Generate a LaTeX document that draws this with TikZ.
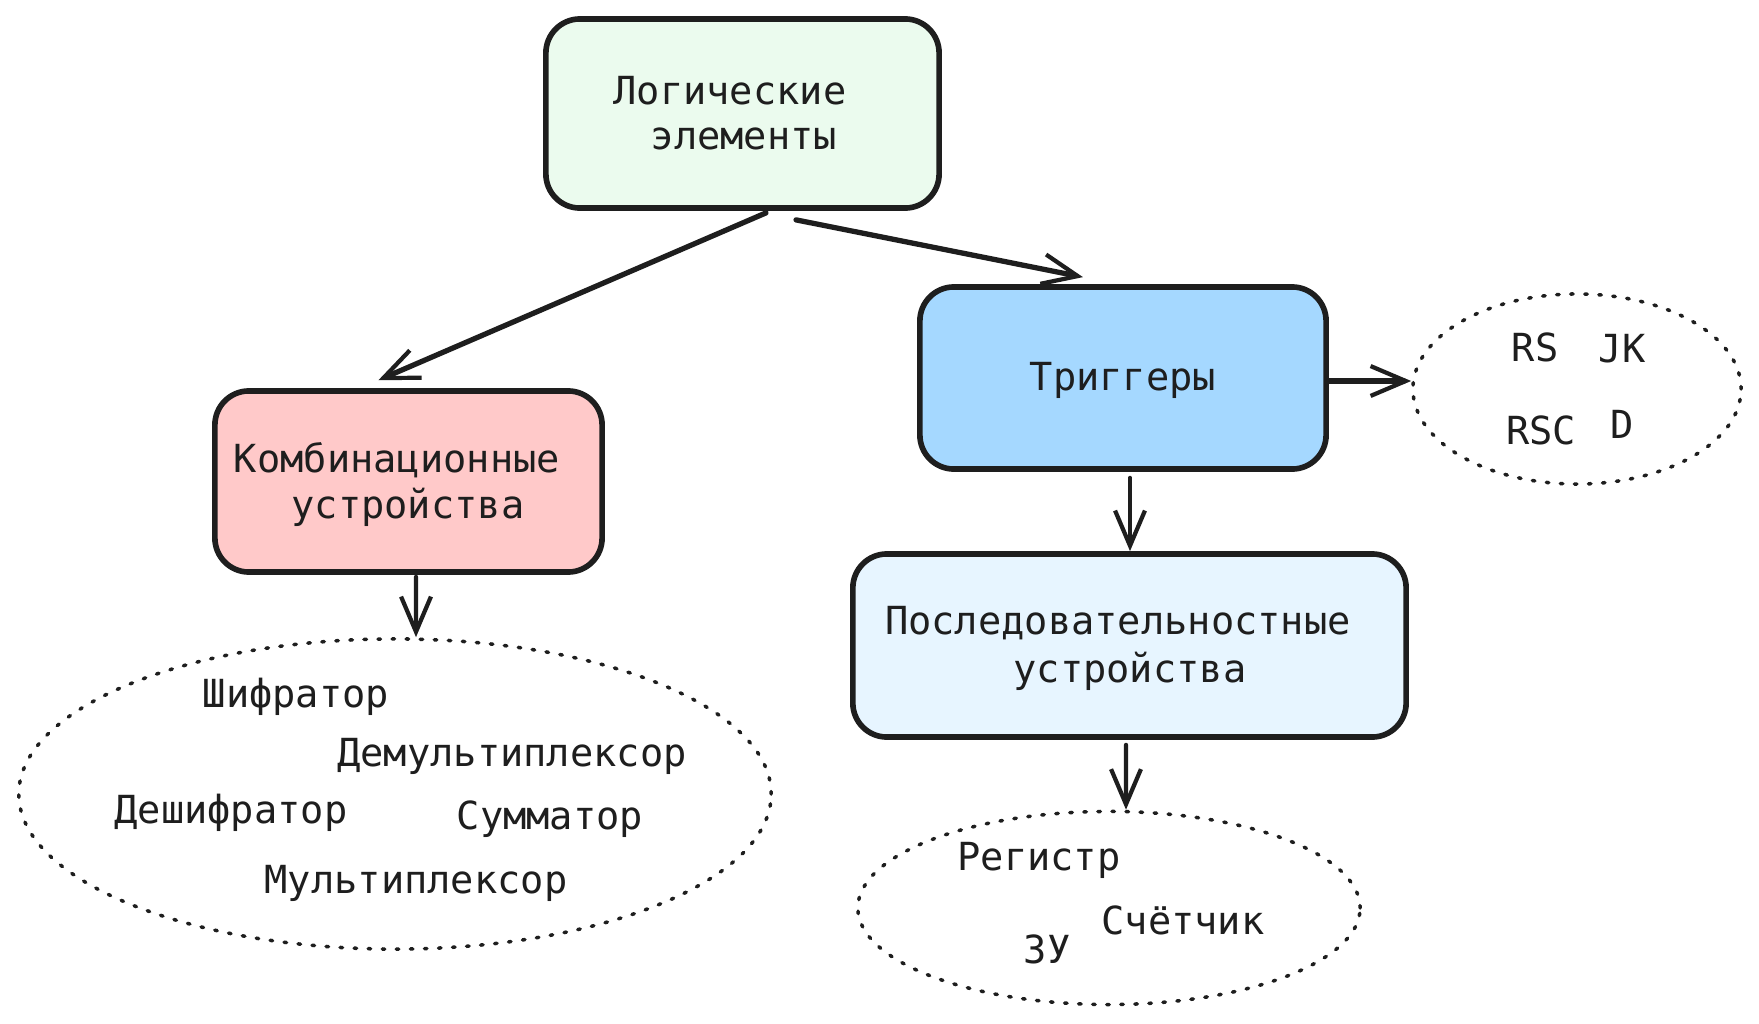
\documentclass[tikz,border=0pt]{standalone}
\usepackage{fontspec}
\newfontfamily\handfont{DejaVu Sans Mono}
\usetikzlibrary{arrows.meta,shapes.geometric}
\definecolor{ink}{HTML}{1E1E1E}
\definecolor{fgreen}{HTML}{EBFBEE}
\definecolor{fred}{HTML}{FFC9C9}
\definecolor{fblue}{HTML}{A5D8FF}
\definecolor{flight}{HTML}{E7F5FF}
\tikzset{
  boxnode/.style={draw=ink, line width=1.6pt, rounded corners=0.34cm, inner sep=0pt},
  cloud/.style={draw=ink, ellipse, inner sep=0pt, line width=1pt, dash pattern=on 0.7pt off 3.3pt, line cap=round},
  txt/.style={inner sep=0pt, text=ink, font=\handfont\fontsize{11}{14}\selectfont},
  arr/.style={draw=ink, line width=1.2pt, line cap=round, -{Straight Barb[length=10pt, width=8.5pt, line width=1.2pt]}},
}
\begin{document}
\begin{tikzpicture}[x=0.01cm, y=-0.01cm]
\useasboundingbox[fill=white] (0,0) rectangle (1759,1024);

% boxes
\node[boxnode, fill=fgreen, minimum width=3.93cm, minimum height=1.89cm] (top) at (742.5,113.5) {};
\node[boxnode, fill=fred, minimum width=3.87cm, minimum height=1.81cm] (comb) at (408.5,481.5) {};
\node[boxnode, fill=fblue, minimum width=4.06cm, minimum height=1.82cm] (trig) at (1123,378) {};
\node[boxnode, fill=flight, minimum width=5.53cm, minimum height=1.83cm] (seq) at (1129.5,645.5) {};

% box texts
\node[txt] (topa) at (730,91) {Логические};
\node[txt] (topb) at (744,139) {элементы};
\node[txt] (comba) at (397,460) {Комбинационные};
\node[txt] (combb) at (408,507) {устройства};
\node[txt] (triga) at (1123,380) {Триггеры};
\node[txt] (seqa) at (1118,623) {Последовательностные};
\node[txt] (seqb) at (1130,671) {устройства};

% ellipses
\node[cloud, minimum width=7.52cm, minimum height=3.10cm] (e1) at (395,794) {};
\node[cloud, minimum width=3.28cm, minimum height=1.90cm] (e2) at (1577,389) {};
\node[cloud, minimum width=5.02cm, minimum height=1.93cm] (e3) at (1109,908) {};

% ellipse texts
\node[txt] (t1) at (296,697) {Шифратор};
\node[txt] (t2) at (512,756) {Демультиплексор};
\node[txt] (t3) at (231,813) {Дешифратор};
\node[txt] (t4) at (550,819) {Сумматор};
\node[txt] (t5) at (416,883) {Мультиплексор};

\node[txt] (r1) at (1535,347) {RS};
\node[txt] (r2) at (1622,349) {JK};
\node[txt] (r3) at (1541,430) {RSC};
\node[txt] (r4) at (1622,424) {D};

\node[txt] (s1) at (1039,860) {Регистр};
\node[txt] (s2) at (1183,920) {Счётчик};
\node[txt] (s3) at (1047,949) {ЗУ};

% connectors
\draw[arr, line width=1.5pt] ([xshift=0.235cm,yshift=-0.02cm]top.south) -- ([xshift=-0.3cm,yshift=0.08cm]comb.north);
\draw[arr, line width=1.5pt] ([xshift=0.535cm,yshift=-0.09cm]top.south) -- ([xshift=-0.4cm,yshift=0.07cm]trig.north);
\draw[arr] ([xshift=0.075cm,yshift=-0.02cm]comb.south) -- ([xshift=0.21cm]e1.north);
\draw[arr] ([xshift=0.07cm,yshift=-0.06cm]trig.south) -- ([xshift=0.07cm]trig.south |- seq.north);
\draw[arr, line width=1.5pt] ([yshift=-0.03cm]trig.east) -- ([yshift=-0.03cm]trig.east -| e2.west);
\draw[arr] ([xshift=-0.035cm,yshift=-0.05cm]seq.south) -- ([xshift=0.17cm]e3.north);
\end{tikzpicture}
\end{document}
